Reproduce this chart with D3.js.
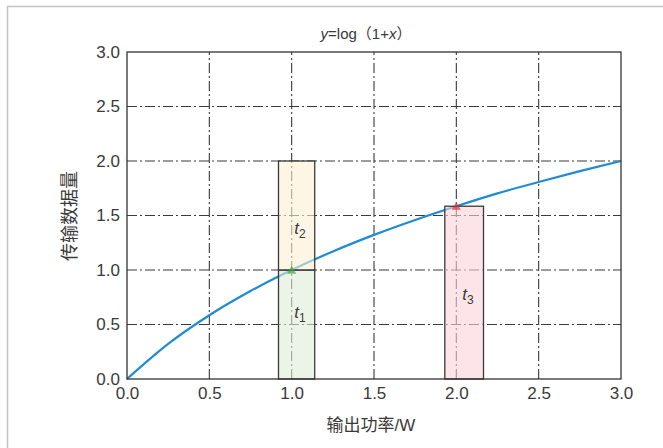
<!DOCTYPE html>
<html>
<head>
<meta charset="utf-8">
<script src="https://cdn.jsdelivr.net/npm/d3@7/dist/d3.min.js"></script>
<style>
  html, body { margin: 0; padding: 0; background: #fff; }
  svg { display: block; }
  text { font-family: "Liberation Sans", "Noto Sans CJK SC", sans-serif; fill: #3a3a3a; }
</style>
</head>
<body>
<svg id="chart" width="663" height="448"></svg>
<script>
// Tick values for both axes
const xTicks = [0, 0.5, 1.0, 1.5, 2.0, 2.5, 3.0];
const yTicks = [0, 0.5, 1.0, 1.5, 2.0, 2.5, 3.0];

// Sampled points of the throughput curve y = log(1+x)
const curveX = [0, 0.25, 0.5, 0.75, 1.0, 1.25, 1.5, 1.75, 2.0, 2.25, 2.5, 2.75, 3.0];
const curveY = [0, 0.322, 0.585, 0.807, 1.0, 1.17, 1.322, 1.459, 1.585, 1.703, 1.807, 1.907, 2.0];

// Time-slot boxes
const segNames = ["t1", "t2", "t3"];
const segX0 = [0.92, 0.92, 1.93];
const segX1 = [1.14, 1.14, 2.165];
const segY0 = [0, 1.0, 0];
const segY1 = [1.0, 2.0, 1.585];
const segFill = ["rgba(222,236,214,0.6)", "rgba(252,240,210,0.6)", "rgba(250,210,216,0.6)"];

// Label positions inside the boxes
const labelX = [1.05, 1.05, 2.07];
const labelY = [0.6, 1.37, 0.76];

// Marked operating points
const markX = [1.0, 2.0];
const markY = [1.0, 1.585];
const markColor = ["#3caa3c", "#e0303c"];

const svg = d3.select("#chart");
const m = { left: 127, right: 621, top: 52, bottom: 379 };

const x = d3.scaleLinear().domain([0, 3]).range([m.left, m.right]);
const y = d3.scaleLinear().domain([0, 3]).range([m.bottom, m.top]);

// outer panel border
svg.append("path")
  .attr("d", "M7.5,448 L7.5,6.5 L663,6.5")
  .attr("fill", "none").attr("stroke", "#c4c4c4").attr("stroke-width", 1.5);

// grid
const grid = svg.append("g").attr("stroke", "#3a3a3a").attr("stroke-width", 1.1)
  .attr("stroke-dasharray", "10,3,2,3").attr("fill", "none");
grid.selectAll("line.v").data(xTicks.slice(1, -1)).join("line")
  .attr("x1", d => x(d)).attr("x2", d => x(d)).attr("y1", m.bottom).attr("y2", m.top);
grid.selectAll("line.h").data(yTicks.slice(1, -1)).join("line")
  .attr("x1", m.left).attr("x2", m.right).attr("y1", d => y(d)).attr("y2", d => y(d));

// curve
const line = d3.line().x(d => x(d[0])).y(d => y(d[1])).curve(d3.curveMonotoneX);
svg.append("path")
  .datum(curveX.map((v, i) => [v, curveY[i]]))
  .attr("d", line)
  .attr("fill", "none").attr("stroke", "#1f8ad6").attr("stroke-width", 2.2);

// boxes
svg.selectAll("rect.seg").data(segNames).join("rect")
  .attr("x", (d, i) => x(segX0[i]))
  .attr("y", (d, i) => y(segY1[i]))
  .attr("width", (d, i) => x(segX1[i]) - x(segX0[i]))
  .attr("height", (d, i) => y(segY0[i]) - y(segY1[i]))
  .attr("fill", (d, i) => segFill[i])
  .attr("stroke", "#3a3a3a").attr("stroke-width", 1.3);

// markers
const tri = d3.symbol().type(d3.symbolTriangle).size(36);
svg.selectAll("path.mark").data(markX).join("path")
  .attr("d", tri)
  .attr("transform", (d, i) => `translate(${x(d)},${y(markY[i]) + 1})`)
  .attr("fill", (d, i) => markColor[i]).attr("opacity", 0.7);

// box labels
const lab = svg.selectAll("text.seg").data(segNames).join("text")
  .attr("x", (d, i) => x(labelX[i]))
  .attr("y", (d, i) => y(labelY[i]))
  .attr("text-anchor", "middle")
  .attr("dominant-baseline", "middle")
  .style("font-size", "17px");
lab.append("tspan").style("font-style", "italic").text(d => d[0]);
lab.append("tspan").attr("dy", 5).style("font-size", "12px").text(d => d.slice(1));

// frame
svg.append("rect").attr("x", m.left).attr("y", m.top)
  .attr("width", m.right - m.left).attr("height", m.bottom - m.top)
  .attr("fill", "none").attr("stroke", "#333").attr("stroke-width", 1.3);

// axes
const xAxis = svg.append("g").attr("transform", `translate(0,${m.bottom})`)
  .call(d3.axisBottom(x).tickValues(xTicks).tickFormat(d3.format(".1f")).tickSize(0).tickPadding(8));
const yAxis = svg.append("g").attr("transform", `translate(${m.left},0)`)
  .call(d3.axisLeft(y).tickValues(yTicks).tickFormat(d3.format(".1f")).tickSize(0).tickPadding(7));
[xAxis, yAxis].forEach(a => {
  a.select(".domain").remove();
  a.selectAll("text").style("font-size", "17px").style("font-family", "Liberation Sans, sans-serif").attr("fill", "#3a3a3a");
});

// axis titles
svg.append("text").attr("x", 371).attr("y", 427)
  .attr("text-anchor", "middle").attr("dominant-baseline", "middle")
  .style("font-size", "17px").text("输出功率/W");
svg.append("text")
  .attr("transform", "translate(71,216) rotate(-90)")
  .attr("text-anchor", "middle").attr("dominant-baseline", "middle")
  .style("font-size", "18px").text("传输数据量");

// title
const title = svg.append("text").attr("x", 366).attr("y", 35)
  .attr("text-anchor", "middle").attr("dominant-baseline", "middle")
  .style("font-size", "15px");
title.append("tspan").style("font-style", "italic").text("y");
title.append("tspan").text("=log（1+");
title.append("tspan").style("font-style", "italic").text("x");
title.append("tspan").text("）");
</script>
</body>
</html>
